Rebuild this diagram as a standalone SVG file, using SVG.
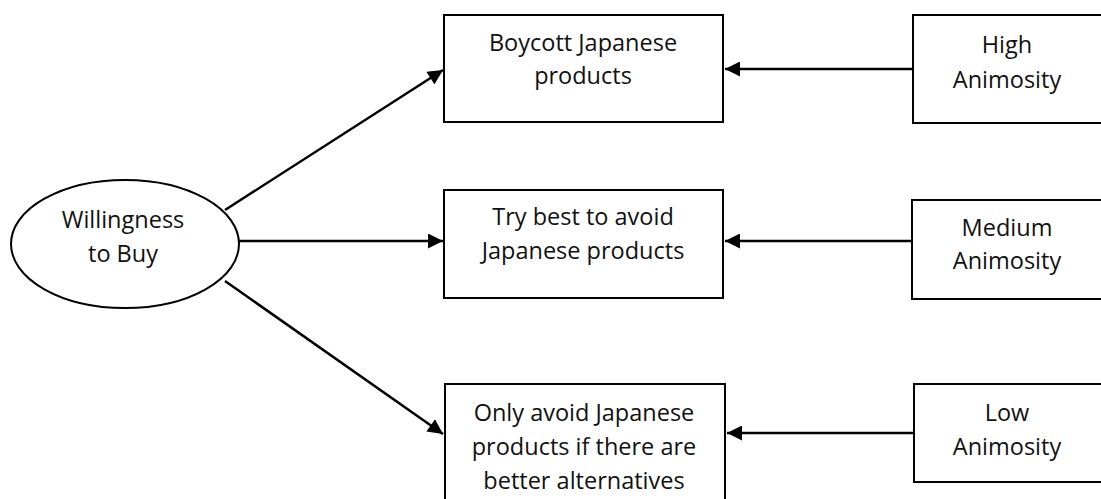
<svg xmlns="http://www.w3.org/2000/svg" width="1101" height="499" viewBox="0 0 1101 499">
<style>
.n{fill:#fff;stroke:#000;stroke-width:2}
.t{font-family:"Open Sans","Noto Sans",sans-serif;font-size:23.5px;fill:#111;text-anchor:middle}
.c{stroke:#000;stroke-width:2.5;fill:none;marker-end:url(#a)}
</style>
<defs>
<marker id="a" viewBox="0 0 10 10" refX="10" refY="5" markerWidth="6.5" markerHeight="6" markerUnits="strokeWidth" orient="auto">
<path d="M0,0 L10,5 L0,10 z" fill="#000"/>
</marker>
</defs>
<rect width="1101" height="499" fill="#fff"/>
<g id="connectors">
<line class="c" x1="225" y1="210" x2="443" y2="70"/>
<line class="c" x1="239" y1="241" x2="443" y2="241"/>
<line class="c" x1="225" y1="281" x2="443" y2="434"/>
<line class="c" x1="913" y1="69" x2="725" y2="69"/>
<line class="c" x1="913" y1="241" x2="725" y2="241"/>
<line class="c" x1="914" y1="433" x2="727" y2="433"/>
</g>
<g id="willingness">
<ellipse class="n" cx="125" cy="244" rx="114" ry="64"/>
<text class="t" x="123" y="228">Willingness</text>
<text class="t" x="123" y="262">to Buy</text>
</g>
<g id="boycott">
<rect class="n" x="444" y="15" width="279" height="107"/>
<text class="t" x="583" y="51">Boycott Japanese</text>
<text class="t" x="583" y="84">products</text>
</g>
<g id="trybest">
<rect class="n" x="444" y="190" width="279" height="108"/>
<text class="t" x="583" y="225">Try best to avoid</text>
<text class="t" x="583" y="259">Japanese products</text>
</g>
<g id="onlyavoid">
<rect class="n" x="445" y="384" width="280" height="125"/>
<text class="t" x="584" y="421">Only avoid Japanese</text>
<text class="t" x="584" y="455">products if there are</text>
<text class="t" x="584" y="489">better alternatives</text>
</g>
<g id="high">
<rect class="n" x="913" y="15" width="198" height="108"/>
<text class="t" x="1007" y="53">High</text>
<text class="t" x="1007" y="88">Animosity</text>
</g>
<g id="medium">
<rect class="n" x="912" y="200" width="199" height="99"/>
<text class="t" x="1007" y="236">Medium</text>
<text class="t" x="1007" y="269">Animosity</text>
</g>
<g id="low">
<rect class="n" x="914" y="384" width="197" height="98"/>
<text class="t" x="1007" y="421">Low</text>
<text class="t" x="1007" y="455">Animosity</text>
</g>
</svg>
